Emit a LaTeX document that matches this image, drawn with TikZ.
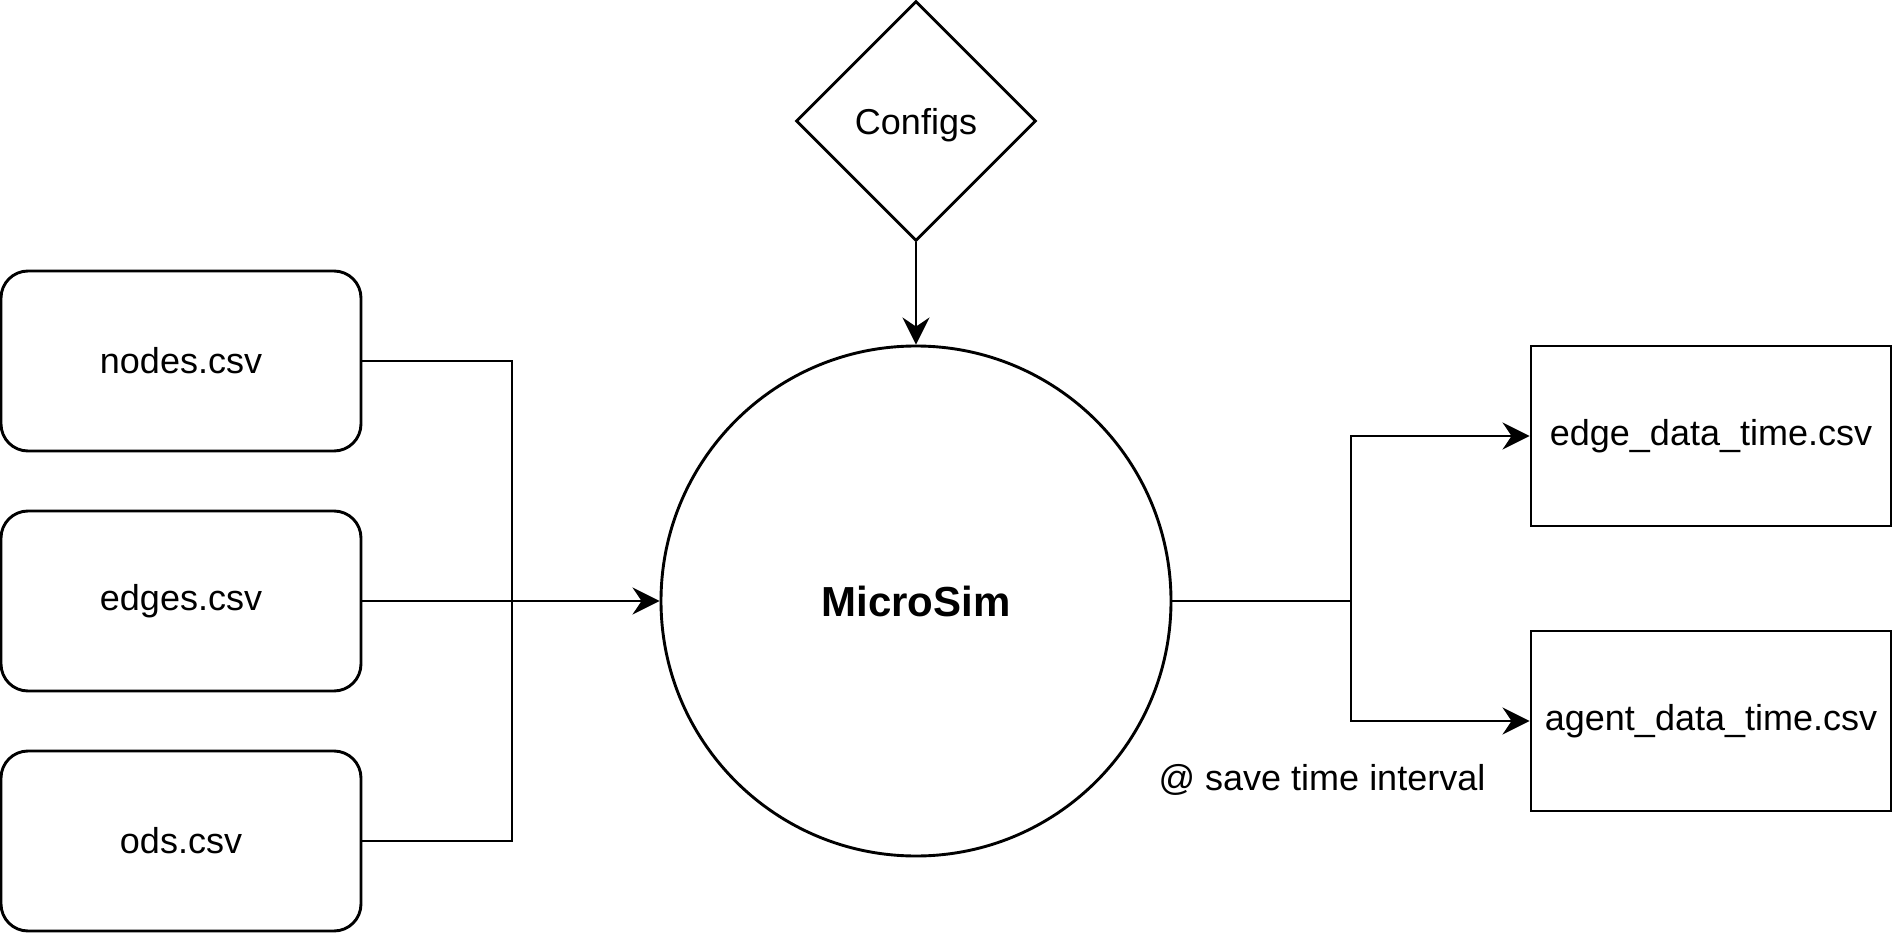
\documentclass[tikz,border=0pt]{standalone}
\usepackage{fontspec}
\setmainfont{Liberation Sans}
\usetikzlibrary{shapes.geometric, arrows.meta}

\tikzset{
  infile/.style={draw, rounded corners=27pt, minimum width=360pt,
    minimum height=180pt, inner sep=0pt},
  outfile/.style={draw, minimum width=360pt, minimum height=180pt,
    inner sep=0pt},
  flow/.style={-{Stealth[length=27pt, width=27pt, inset=9pt]}}
}

\begin{document}
\begin{tikzpicture}[x=1pt, y=1pt, line width=2.9pt,
  font=\fontsize{36}{43}\selectfont]
  \useasboundingbox (0, 0) rectangle (1893, -933);

  % input files
  \node[infile] (nodes) at (181, -361) {nodes.csv};
  \node[infile] (edges) at (181, -601) {edges.csv};
  \node[infile] (ods)   at (181, -841) {ods.csv};

  % simulator and configs
  \node[draw, circle, minimum size=510pt, inner sep=0pt,
    font=\fontsize{42}{50}\selectfont\bfseries] (sim) at (916, -601) {MicroSim};
  \node[draw, diamond, minimum width=240pt, minimum height=240pt,
    inner sep=0pt, text depth=0pt] (cfg) at (916, -121) {Configs};

  % output files
  \node[outfile] (edgeout)  at (1711, -436) {edge\_data\_time.csv};
  \node[outfile] (agentout) at (1711, -721) {agent\_data\_time.csv};
  \node (note) at (1322, -780) {@ save time interval};

  % inputs merge
  \coordinate (join) at (512, -601);
  \draw (nodes.east) -| (join);
  \draw (ods.east) -| (join);
  \draw[flow] (edges.east) -- (sim.west);
  \draw[flow] (cfg.south) -- (sim.north);

  % outputs split
  \coordinate (split) at (1351, -601);
  \draw (sim.east) -- (split);
  \draw[flow] (split) |- (edgeout.west);
  \draw[flow] (split) |- (agentout.west);
\end{tikzpicture}
\end{document}
